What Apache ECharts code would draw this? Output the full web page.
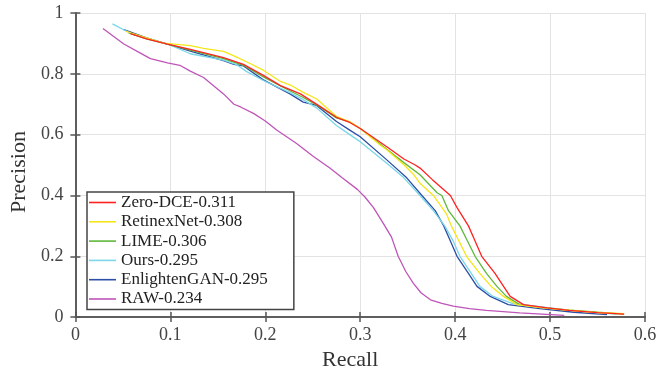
<!DOCTYPE html>
<html>
<head>
<meta charset="utf-8">
<script src="https://cdn.jsdelivr.net/npm/echarts@6/dist/echarts.min.js"></script>
<style>html,body{margin:0;padding:0;background:#fff}#c{width:667px;height:376px}</style>
</head>
<body>
<div id="c"></div>
<script>
var seriesNames = ['Zero-DCE-0.311','RetinexNet-0.308','LIME-0.306','Ours-0.295','EnlightenGAN-0.295','RAW-0.234'];
var seriesColors = ['#ff2222','#f5e61a','#5fb83a','#7ad6e8','#2c4ea6','#bf55b8'];
var xTicks = [0,0.1,0.2,0.3,0.4,0.5,0.6];
var yTicks = [0,0.2,0.4,0.6,0.8,1];

var zeroDCE = [[0.058,0.932],[0.075,0.915],[0.097,0.898],[0.121,0.880],[0.156,0.853],[0.177,0.831],[0.198,0.795],[0.216,0.761],[0.237,0.734],[0.258,0.692],[0.275,0.657],[0.289,0.640],[0.300,0.620],[0.328,0.560],[0.346,0.520],[0.358,0.500],[0.363,0.490],[0.376,0.452],[0.395,0.400],[0.402,0.360],[0.414,0.300],[0.421,0.250],[0.428,0.200],[0.442,0.144],[0.451,0.101],[0.458,0.068],[0.472,0.041],[0.497,0.030],[0.520,0.022],[0.550,0.015],[0.578,0.010]];
var retinexNet = [[0.053,0.940],[0.075,0.918],[0.093,0.901],[0.121,0.893],[0.135,0.884],[0.156,0.874],[0.170,0.855],[0.184,0.834],[0.198,0.812],[0.216,0.775],[0.226,0.764],[0.240,0.739],[0.254,0.718],[0.275,0.660],[0.289,0.642],[0.300,0.620],[0.321,0.566],[0.328,0.550],[0.346,0.501],[0.356,0.470],[0.363,0.440],[0.377,0.400],[0.384,0.370],[0.391,0.339],[0.396,0.300],[0.404,0.250],[0.412,0.200],[0.426,0.144],[0.438,0.101],[0.451,0.068],[0.465,0.041],[0.486,0.033],[0.511,0.025],[0.545,0.016],[0.578,0.011]];
var lime = [[0.056,0.935],[0.075,0.915],[0.097,0.898],[0.121,0.878],[0.156,0.850],[0.177,0.828],[0.198,0.790],[0.216,0.760],[0.240,0.722],[0.258,0.690],[0.275,0.655],[0.289,0.642],[0.300,0.620],[0.328,0.552],[0.346,0.508],[0.363,0.468],[0.381,0.409],[0.386,0.400],[0.393,0.350],[0.405,0.300],[0.413,0.250],[0.421,0.200],[0.433,0.144],[0.444,0.101],[0.454,0.068],[0.468,0.041],[0.490,0.032],[0.520,0.023],[0.550,0.016],[0.578,0.010]];
var ours = [[0.039,0.964],[0.060,0.930],[0.097,0.898],[0.121,0.866],[0.156,0.845],[0.170,0.830],[0.180,0.808],[0.198,0.778],[0.226,0.738],[0.240,0.715],[0.254,0.688],[0.275,0.630],[0.289,0.600],[0.300,0.577],[0.328,0.506],[0.346,0.458],[0.363,0.400],[0.377,0.350],[0.389,0.300],[0.398,0.250],[0.405,0.200],[0.417,0.144],[0.426,0.101],[0.440,0.068],[0.460,0.045],[0.489,0.034],[0.520,0.023],[0.550,0.015],[0.570,0.010]];
var enlightenGAN = [[0.051,0.945],[0.075,0.918],[0.097,0.898],[0.121,0.875],[0.156,0.843],[0.167,0.831],[0.177,0.826],[0.198,0.780],[0.226,0.734],[0.240,0.707],[0.254,0.696],[0.275,0.643],[0.289,0.615],[0.300,0.593],[0.328,0.517],[0.349,0.458],[0.365,0.400],[0.379,0.350],[0.388,0.300],[0.395,0.250],[0.402,0.200],[0.414,0.144],[0.423,0.101],[0.437,0.068],[0.456,0.041],[0.489,0.028],[0.525,0.016],[0.560,0.008]];
var raw = [[0.029,0.949],[0.051,0.898],[0.068,0.869],[0.079,0.850],[0.097,0.836],[0.110,0.828],[0.121,0.809],[0.135,0.788],[0.156,0.734],[0.167,0.700],[0.174,0.691],[0.188,0.669],[0.200,0.645],[0.212,0.615],[0.233,0.571],[0.250,0.530],[0.268,0.490],[0.281,0.458],[0.297,0.420],[0.305,0.395],[0.314,0.360],[0.324,0.310],[0.333,0.263],[0.340,0.200],[0.348,0.150],[0.356,0.111],[0.364,0.080],[0.374,0.057],[0.386,0.045],[0.398,0.036],[0.415,0.028],[0.433,0.022],[0.468,0.014],[0.515,0.006]];

var allData = [zeroDCE, retinexNet, lime, ours, enlightenGAN, raw];

var serif = '"Liberation Serif","DejaVu Serif",serif';
var axisColor = '#555555';

var chart = echarts.init(document.getElementById('c'), null, {renderer:'canvas'});
var series = [];
for (var i = allData.length - 1; i >= 0; i--) {
  series.push({
    name: seriesNames[i],
    type: 'line',
    data: allData[i],
    symbol: 'none',
    smooth: false,
    lineStyle: {color: seriesColors[i], width: 1.3},
    itemStyle: {color: seriesColors[i]},
    animation: false,
    z: 10 + (allData.length - i)
  });
}

chart.setOption({
  backgroundColor: '#fff',
  animation: false,
  grid: {left: 75, right: 22, top: 13, bottom: 55, containLabel: false},
  legend: {
    data: seriesNames,
    orient: 'vertical',
    left: 87, top: 192,
    backgroundColor: '#fff',
    borderColor: '#444',
    borderWidth: 1.5,
    borderRadius: 0,
    padding: [1, 26, 1, 2],
    icon: 'rect',
    itemWidth: 27,
    itemHeight: 1.6,
    itemGap: 0.3,
    textStyle: {fontFamily: serif, fontSize: 17, color: '#222', lineHeight: 19},
    z: 50
  },
  xAxis: [{
    type: 'value', min: 0, max: 0.6, interval: 0.1, position: 'bottom',
    name: 'Recall', nameLocation: 'middle', nameGap: 29,
    nameTextStyle: {fontFamily: serif, fontSize: 22, color: '#333', padding: [0, 20, 0, 0]},
    axisLine: {show: true, lineStyle: {color: axisColor, width: 1.5}},
    axisTick: {show: true, inside: true, length: 5, lineStyle: {color: axisColor, width: 1.5}},
    axisLabel: {fontFamily: serif, fontSize: 18, color: '#444', margin: 9,
      formatter: function(v){ var idx = xTicks.indexOf(Math.round(v*10)/10); return idx >= 0 ? String(xTicks[idx]) : ''; }},
    splitLine: {show: true, lineStyle: {color: '#e3e3e3', width: 1}}
  },{
    type: 'value', min: 0, max: 0.6, interval: 0.1, position: 'top',
    axisLine: {show: true, lineStyle: {color: axisColor, width: 1.5}},
    axisTick: {show: true, inside: true, length: 5, lineStyle: {color: axisColor, width: 1.5}},
    axisLabel: {show: false}, splitLine: {show: false}
  }],
  yAxis: [{
    type: 'value', min: 0, max: 1, interval: 0.2, position: 'left',
    name: 'Precision', nameLocation: 'middle', nameGap: 37, nameRotate: 90,
    nameTextStyle: {fontFamily: serif, fontSize: 22, color: '#333', padding: [0, 14, 0, 0]},
    axisLine: {show: true, lineStyle: {color: axisColor, width: 1.5}},
    axisTick: {show: true, inside: true, length: 5, lineStyle: {color: axisColor, width: 1.5}},
    axisLabel: {fontFamily: serif, fontSize: 18, color: '#444', margin: 12,
      formatter: function(v){ var idx = yTicks.indexOf(Math.round(v*10)/10); return idx >= 0 ? String(yTicks[idx]) : ''; }},
    splitLine: {show: true, lineStyle: {color: '#e3e3e3', width: 1}}
  },{
    type: 'value', min: 0, max: 1, interval: 0.2, position: 'right',
    axisLine: {show: true, lineStyle: {color: axisColor, width: 1.5}},
    axisTick: {show: true, inside: true, length: 5, lineStyle: {color: axisColor, width: 1.5}},
    axisLabel: {show: false}, splitLine: {show: false}
  }],
  series: series
});
</script>
</body>
</html>
